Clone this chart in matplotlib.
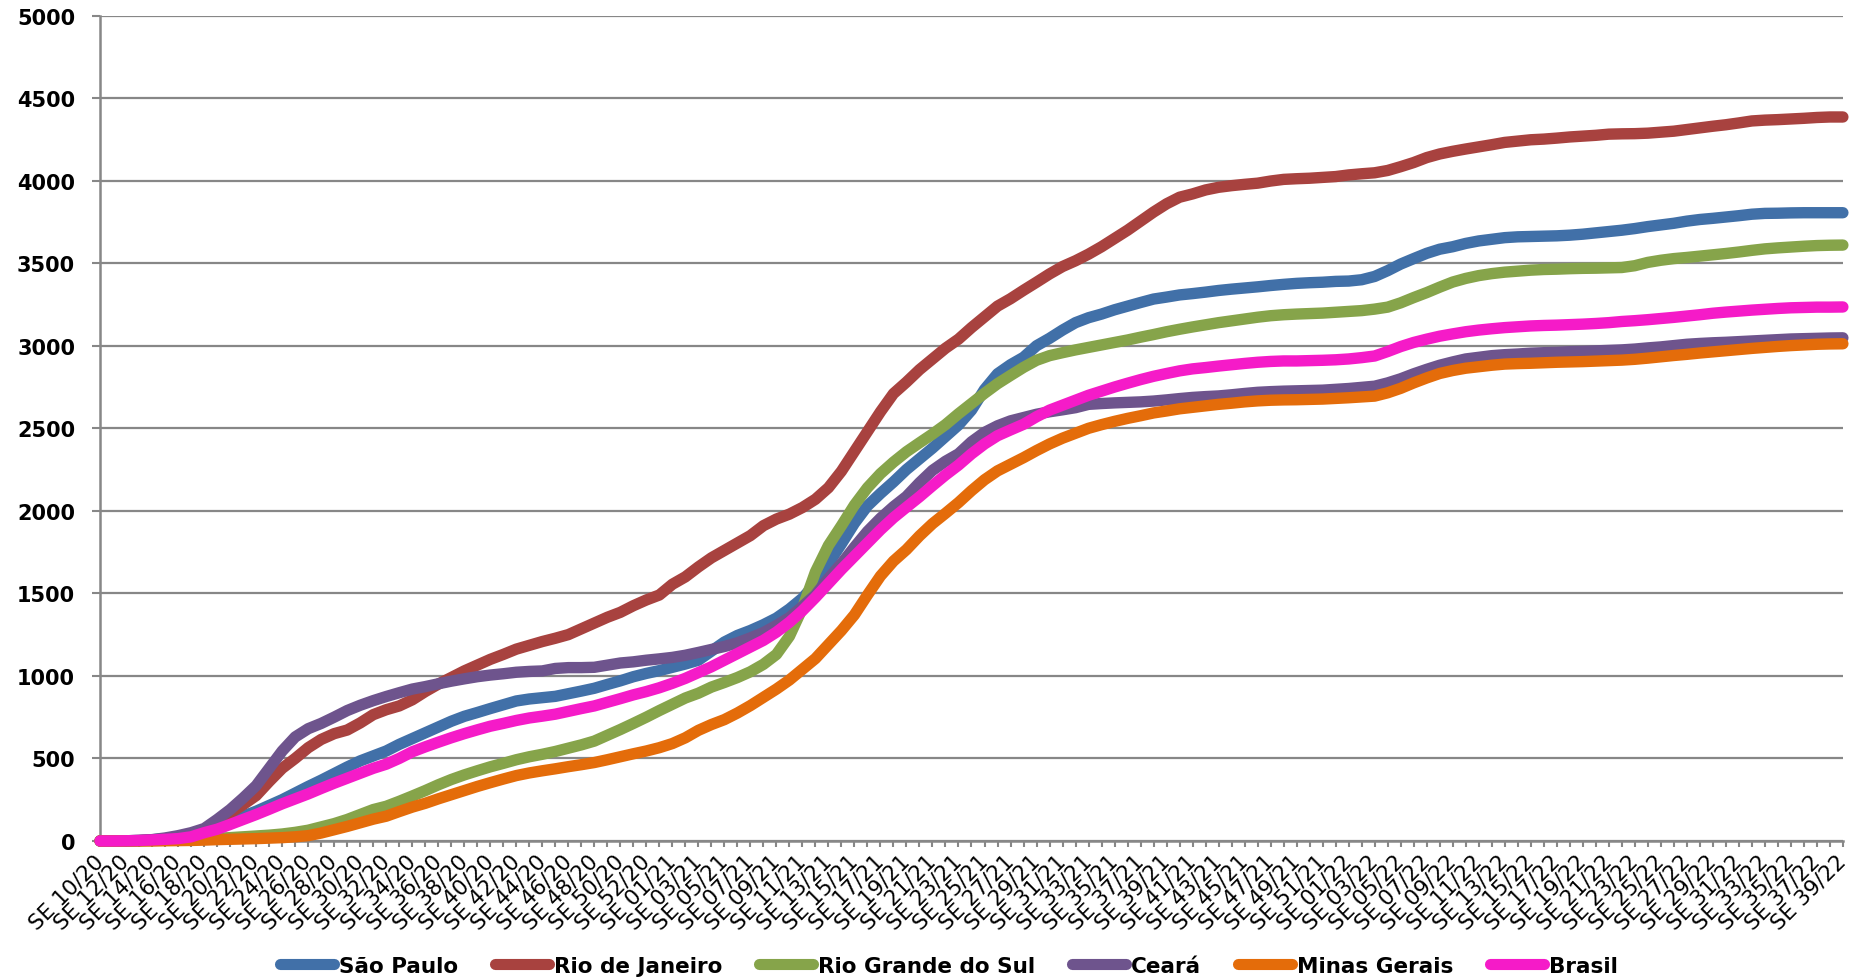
import matplotlib
matplotlib.use('Agg')
import matplotlib.pyplot as plt

# ---- semanas epidemiológicas (SE 10/20 .. SE 39/22) ----
YEAR_RANGES = [('20', 10, 53), ('21', 1, 52), ('22', 1, 39)]
weeks = [f'SE {w:02d}/{yy}' for yy, a, b in YEAR_RANGES for w in range(a, b + 1)]

sao_paulo = [
    0, 0, 1, 3, 7, 14, 24, 40, 62, 90, 120, 150, 180, 215, 250, 290, 330, 368, 408, 448,
    485, 515, 545, 585, 620, 655, 690, 725, 755, 778, 802, 825, 848, 860, 868, 876, 892, 908, 925, 948,
    970, 995, 1015, 1032, 1052, 1072, 1095, 1150, 1205, 1245, 1275, 1310, 1350, 1405, 1470, 1560, 1680, 1800, 1925, 2030,
    2105, 2175, 2250, 2315, 2380, 2450, 2520, 2610, 2735, 2830, 2885, 2930, 3000, 3045, 3095, 3140, 3170, 3192, 3218, 3240,
    3262, 3283, 3295, 3308, 3316, 3325, 3335, 3343, 3350, 3357, 3365, 3372, 3378, 3382, 3385, 3390, 3392, 3400, 3420, 3455,
    3495, 3528, 3560, 3585, 3600, 3620, 3635, 3645, 3655, 3660, 3662, 3664, 3666, 3670, 3676, 3684, 3692, 3700, 3710, 3722,
    3732, 3742, 3755, 3765, 3772, 3780, 3788, 3797, 3802, 3803, 3805, 3806, 3806, 3806, 3806,
]
rio_de_janeiro = [
    0, 0, 1, 2, 5, 10, 18, 30, 60, 110, 170, 220, 275, 360, 440, 500, 565, 615, 650, 672,
    715, 765, 795, 818, 855, 905, 950, 990, 1030, 1065, 1100, 1130, 1162, 1185, 1208, 1228, 1250, 1285, 1320, 1355,
    1385, 1425, 1460, 1490, 1555, 1600, 1660, 1715, 1760, 1805, 1850, 1910, 1950, 1980, 2020, 2070, 2140, 2240, 2360, 2480,
    2600, 2710, 2780, 2855, 2920, 2985, 3040, 3110, 3175, 3240, 3285, 3336, 3385, 3435, 3480, 3515, 3555, 3600, 3650, 3700,
    3755, 3810, 3860, 3900, 3920, 3944, 3960, 3970, 3978, 3985, 3998, 4008, 4012, 4015, 4020, 4025, 4035, 4042, 4048, 4062,
    4085, 4110, 4140, 4162, 4178, 4192, 4205, 4218, 4232, 4240, 4248, 4252, 4258, 4265, 4270, 4275, 4282, 4284, 4285, 4288,
    4294, 4300, 4310, 4320, 4330, 4339, 4350, 4362, 4367, 4370, 4374, 4378, 4383, 4386, 4386,
]
rio_grande_do_sul = [
    0, 0, 0, 1, 2, 4, 6, 9, 12, 16, 20, 25, 30, 35, 42, 52, 65, 85, 105, 130,
    160, 190, 210, 240, 272, 305, 340, 372, 400, 425, 449, 470, 492, 510, 525, 542, 562, 582, 605, 640,
    675, 712, 750, 790, 828, 866, 895, 932, 960, 990, 1025, 1070, 1130, 1240, 1410, 1630, 1790, 1910, 2035, 2140,
    2225, 2295, 2358, 2412, 2465, 2522, 2588, 2650, 2712, 2770, 2820, 2869, 2912, 2940, 2958, 2975, 2990, 3005, 3020, 3035,
    3052, 3068, 3085, 3100, 3114, 3127, 3140, 3151, 3162, 3173, 3182, 3188, 3192, 3195, 3198, 3203, 3208, 3213, 3222, 3234,
    3260, 3292, 3322, 3355, 3386, 3408, 3425, 3437, 3446, 3452, 3458, 3462, 3464, 3467, 3469, 3470, 3472, 3474, 3485, 3505,
    3518, 3528, 3535, 3543, 3551, 3559, 3568, 3578, 3587, 3593, 3598, 3603, 3607, 3609, 3610,
]
ceara = [
    0, 0, 1, 3, 8, 18, 32, 50, 75, 130, 190, 260, 335, 440, 545, 630, 680, 712, 750, 790,
    822, 850, 875, 898, 920, 935, 952, 968, 982, 995, 1005, 1013, 1022, 1027, 1030, 1045, 1050, 1050, 1052, 1065,
    1078, 1085, 1095, 1103, 1112, 1125, 1142, 1160, 1178, 1200, 1230, 1262, 1305, 1353, 1420, 1490, 1590, 1680, 1780, 1875,
    1955, 2025, 2087, 2170, 2245, 2300, 2345, 2418, 2475, 2515, 2545, 2565, 2585, 2600, 2612, 2625, 2645, 2650, 2654, 2657,
    2660, 2665, 2672, 2680, 2687, 2692, 2696, 2703, 2711, 2718, 2722, 2725, 2727, 2729, 2731, 2736, 2741, 2748, 2755, 2775,
    2800, 2830, 2857, 2882, 2902, 2920, 2930, 2940, 2946, 2950, 2955, 2958, 2960, 2964, 2966, 2969, 2972, 2975, 2980, 2987,
    2993, 3001, 3009, 3014, 3018, 3021, 3025, 3029, 3033, 3037, 3041, 3043, 3045, 3047, 3048,
]
minas_gerais = [
    0, 0, 0, 0, 0, 1, 2, 3, 5, 8, 10, 12, 14, 17, 20, 25, 32, 48, 68, 88,
    110, 132, 150, 178, 205, 228, 255, 280, 305, 330, 353, 375, 396, 412, 425, 437, 450, 462, 475, 492,
    510, 528, 545, 565, 590, 625, 670, 705, 735, 775, 820, 870, 920, 975, 1040, 1105, 1190, 1275, 1370, 1490,
    1605, 1695, 1765, 1848, 1922, 1985, 2050, 2122, 2188, 2242, 2282, 2322, 2365, 2405, 2440, 2470, 2500, 2522, 2542, 2560,
    2576, 2593, 2605, 2618, 2627, 2636, 2645, 2652, 2660, 2666, 2670, 2672, 2673, 2675, 2677, 2681, 2685, 2690, 2695, 2715,
    2742, 2775, 2805, 2832, 2850, 2864, 2873, 2882, 2889, 2892, 2894, 2897, 2900, 2902, 2904, 2907, 2910, 2913, 2918, 2925,
    2933, 2941, 2948, 2956, 2963, 2970, 2977, 2984, 2990, 2996, 3001, 3005, 3009, 3011, 3012,
]
brasil = [
    0, 0, 1, 3, 6, 10, 14, 25, 50, 71, 100, 130, 160, 192, 225, 255, 285, 318, 350, 380,
    410, 440, 465, 500, 540, 570, 598, 625, 650, 673, 695, 712, 730, 745, 756, 768, 785, 802, 818, 840,
    862, 885, 905, 928, 955, 985, 1020, 1055, 1095, 1135, 1175, 1215, 1265, 1325, 1395, 1475, 1560, 1645, 1725, 1805,
    1885, 1958, 2022, 2085, 2152, 2217, 2277, 2345, 2405, 2455, 2490, 2524, 2570, 2610, 2640, 2670, 2700, 2725, 2750, 2773,
    2795, 2815, 2832, 2848, 2860, 2868, 2877, 2885, 2893, 2900, 2905, 2908, 2908, 2910, 2912, 2915, 2920, 2928, 2938, 2965,
    2995, 3020, 3040, 3058, 3072, 3085, 3095, 3103, 3110, 3115, 3120, 3123, 3125, 3128, 3131, 3135, 3140, 3147, 3152, 3158,
    3165, 3172, 3180, 3188, 3197, 3204, 3210, 3216, 3221, 3226, 3230, 3232, 3234, 3234, 3235,
]

series = [
    ('São Paulo', sao_paulo, '#4170A8'),
    ('Rio de Janeiro', rio_de_janeiro, '#A8423F'),
    ('Rio Grande do Sul', rio_grande_do_sul, '#86A44A'),
    ('Ceará', ceara, '#6E548D'),
    ('Minas Gerais', minas_gerais, '#E46C0A'),
    ('Brasil', brasil, '#F51BC8'),
]

GRID = '#878787'

fig = plt.figure(figsize=(18.54, 9.79), dpi=100, facecolor='white')
ax = fig.add_axes([0.054, 0.140, 0.940, 0.843])

x = list(range(len(weeks)))
for name, vals, color in series:
    ax.plot(x, vals, color=color, lw=8.2, label=name,
            solid_capstyle='round', solid_joinstyle='round', clip_on=False, zorder=3)

ax.set_xlim(0, len(weeks) - 1)
ax.set_ylim(0, 5000)
ax.set_yticks(range(0, 5001, 500))
ax.yaxis.grid(True, color=GRID, lw=1.6)
ax.set_axisbelow(True)

ax.set_xticks(x)
ax.set_xticklabels([w if i % 2 == 0 else '' for i, w in enumerate(weeks)],
                   rotation=45, ha='right', va='center', rotation_mode='anchor',
                   fontsize=15.5, family='DejaVu Sans')
for lab in ax.get_yticklabels():
    lab.set_fontweight('bold')
    lab.set_fontsize(15)

ax.tick_params(axis='y', length=6, width=1.5, color=GRID, pad=12)
ax.tick_params(axis='x', length=4, width=1.5, color=GRID, pad=8)

for side in ('top', 'right'):
    ax.spines[side].set_visible(False)
for side in ('left', 'bottom'):
    ax.spines[side].set_color(GRID)
    ax.spines[side].set_linewidth(1.8)

leg = fig.legend(loc='center', bbox_to_anchor=(0.512, 0.0125), ncol=6, frameon=False,
                 handlelength=2.5, handletextpad=0.25, columnspacing=1.7,
                 borderpad=0.1, prop={'weight': 'bold', 'size': 15.5})
for h in leg.get_lines():
    h.set_linewidth(8)
    h.set_solid_capstyle('round')

fig.savefig('out.png', dpi=100, facecolor='white')
